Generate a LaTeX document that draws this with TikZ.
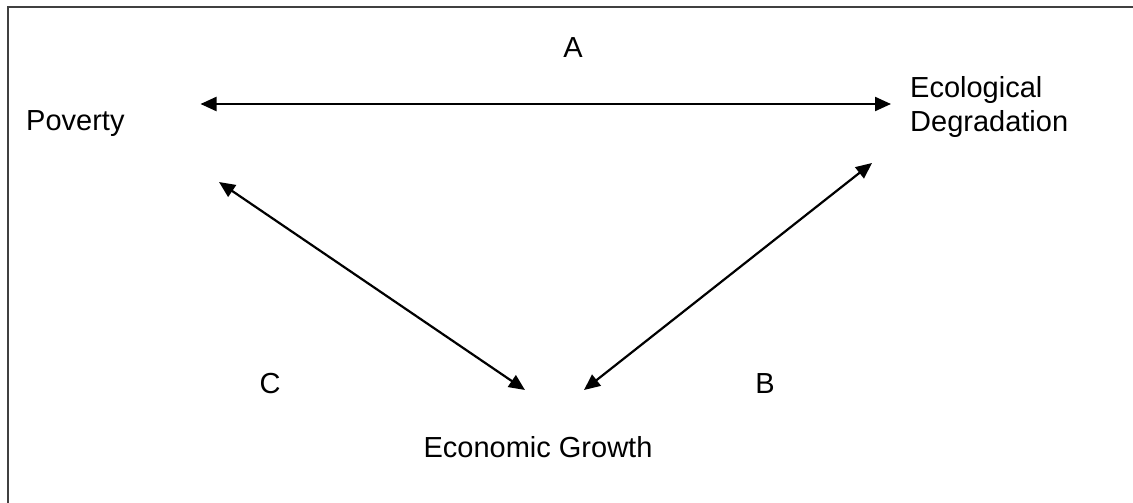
\documentclass[tikz,border=0pt]{standalone}
\usepackage{fontspec}
\setmainfont{Liberation Sans}
\usetikzlibrary{arrows.meta}
\begin{document}
\begin{tikzpicture}[x=1pt,y=-1pt,
  lbl/.style={inner sep=0pt, font=\fontsize{29}{34}\selectfont},
  link/.style={line width=2.2pt, {Triangle[length=16pt,width=14pt]}-{Triangle[length=16pt,width=14pt]}},
  frame/.style={line width=2pt, draw=black!75}]
\useasboundingbox (0,0) rectangle (1133,503);
\draw[frame] (7.5,503) -- (7.5,7.5) -- (1133,7.5);
\node[lbl, anchor=base west] (poverty) at (26,130.7) {Poverty};
\node[lbl, anchor=base west, align=left] (eco) at (910,131.5) {Ecological\\Degradation};
\node[lbl, anchor=base] (growth) at (538,457) {Economic Growth};
\node[lbl, anchor=base] (la) at (573,58) {A};
\node[lbl, anchor=base] (lc) at (270,393) {C};
\node[lbl, anchor=base] (lb) at (765,393) {B};
\coordinate (pa) at (200.5,104);
\coordinate (ea) at (891,104);
\coordinate (pc) at (219,182);
\coordinate (gc) at (525,390);
\coordinate (eb) at (872,163);
\coordinate (gb) at (584,390);
\draw[link] (pa) -- (ea);
\draw[link] (pc) -- (gc);
\draw[link] (eb) -- (gb);
\end{tikzpicture}
\end{document}
